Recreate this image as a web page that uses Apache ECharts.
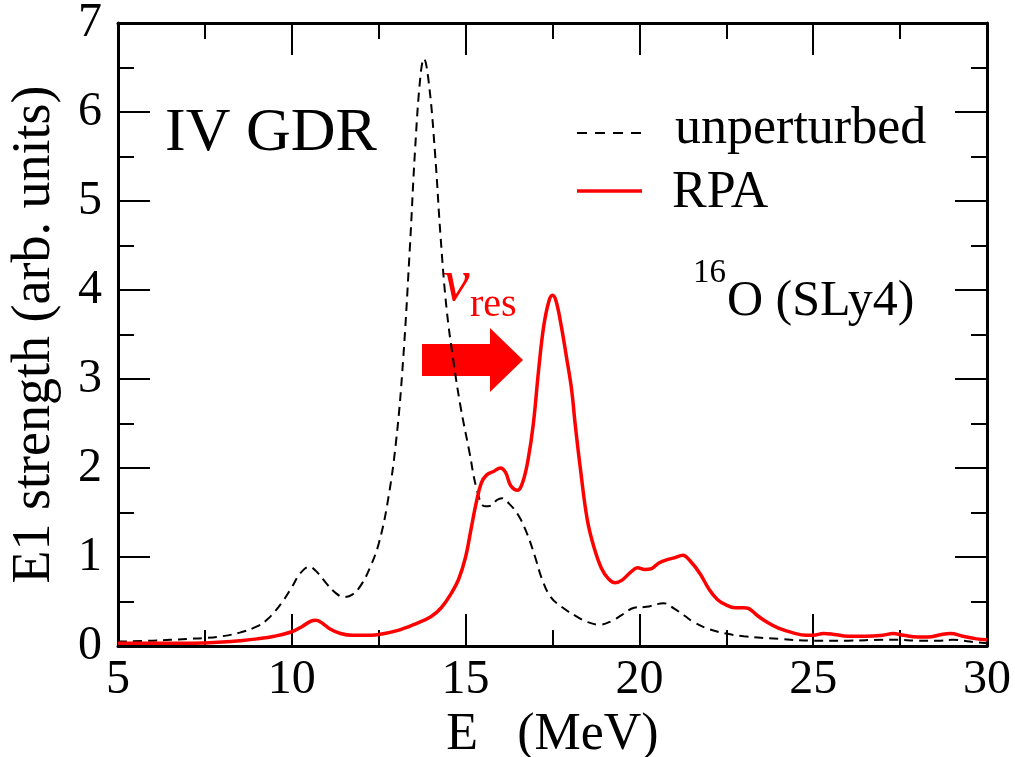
<!DOCTYPE html>
<html>
<head>
<meta charset="utf-8">
<title>E1 strength 16O</title>
<script src="https://cdn.jsdelivr.net/npm/echarts@6/dist/echarts.min.js"></script>
<style>
  html, body { margin: 0; padding: 0; background: #fff; }
  #chart { width: 1015px; height: 757px; }
</style>
</head>
<body>
<div id="chart"></div>
<script>
// unperturbed strength (dashed black)
const energyUnpert = [5.0, 6.0, 7.0, 7.5, 8.0, 8.5, 9.0, 9.3, 9.7, 10.0, 10.25, 10.5, 10.75, 11.0, 11.25, 11.5, 11.75, 12.0, 12.25, 12.5, 12.75, 13.0, 13.2, 13.4, 13.55, 13.7, 13.8, 13.95, 14.12, 14.28, 14.45, 14.65, 14.85, 15.1, 15.33, 15.55, 15.75, 15.9, 16.05, 16.25, 16.5, 16.75, 17.0, 17.2, 17.45, 17.8, 18.2, 18.5, 18.85, 19.2, 19.5, 19.85, 20.2, 20.7, 21.0, 21.3, 21.55, 22.0, 22.5, 23.0, 24.0, 25.0, 26.0, 27.0, 27.4, 28.0, 28.6, 29.0, 29.5, 30.0]
const strengthUnpert = [0.05, 0.06, 0.08, 0.09, 0.11, 0.15, 0.22, 0.30, 0.48, 0.66, 0.82, 0.89, 0.82, 0.70, 0.60, 0.55, 0.58, 0.69, 0.88, 1.15, 1.6, 2.3, 3.2, 4.5, 5.6, 6.4, 6.6, 6.3, 5.54, 4.6, 3.8, 3.2, 2.7, 2.2, 1.75, 1.57, 1.58, 1.64, 1.66, 1.6, 1.48, 1.28, 1.0, 0.75, 0.55, 0.43, 0.33, 0.27, 0.24, 0.28, 0.35, 0.43, 0.44, 0.48, 0.42, 0.34, 0.27, 0.19, 0.14, 0.11, 0.08, 0.06, 0.06, 0.07, 0.07, 0.06, 0.06, 0.07, 0.05, 0.03]

// RPA strength (solid red)
const energyRpa = [5.0, 6.0, 7.0, 7.5, 8.0, 8.5, 9.0, 9.5, 10.0, 10.3, 10.55, 10.7, 10.9, 11.1, 11.4, 11.75, 12.0, 12.5, 13.0, 13.5, 14.0, 14.3, 14.6, 14.8, 15.0, 15.15, 15.3, 15.45, 15.6, 15.8, 16.0, 16.15, 16.3, 16.5, 16.65, 16.8, 16.95, 17.1, 17.25, 17.4, 17.5, 17.6, 17.75, 17.9, 18.05, 18.15, 18.3, 18.5, 18.7, 18.9, 19.1, 19.3, 19.5, 19.75, 19.95, 20.15, 20.35, 20.55, 20.8, 21.0, 21.25, 21.45, 21.75, 22.0, 22.25, 22.5, 22.75, 23.0, 23.15, 23.4, 23.7, 24.0, 24.4, 24.8, 25.0, 25.3, 25.6, 26.0, 26.5, 27.0, 27.3, 27.6, 28.0, 28.3, 28.7, 28.95, 29.3, 29.7, 30.0]
const strengthRpa = [0.03, 0.03, 0.03, 0.035, 0.045, 0.06, 0.08, 0.11, 0.16, 0.22, 0.28, 0.29, 0.25, 0.19, 0.14, 0.12, 0.12, 0.13, 0.17, 0.24, 0.33, 0.43, 0.6, 0.75, 1.0, 1.3, 1.6, 1.83, 1.92, 1.96, 2.0, 1.95, 1.8, 1.75, 1.85, 2.1, 2.5, 3.1, 3.6, 3.88, 3.94, 3.88, 3.6, 3.25, 2.88, 2.5, 2.0, 1.42, 1.1, 0.88, 0.76, 0.71, 0.74, 0.83, 0.88, 0.86, 0.87, 0.93, 0.97, 0.99, 1.02, 0.96, 0.81, 0.64, 0.52, 0.46, 0.43, 0.43, 0.42, 0.34, 0.26, 0.20, 0.15, 0.12, 0.12, 0.14, 0.13, 0.11, 0.11, 0.12, 0.14, 0.12, 0.10, 0.10, 0.13, 0.14, 0.11, 0.08, 0.07]

const xRange = [5, 30]
const yRange = [0, 7]
const seriesNames = ['unperturbed', 'RPA']

const FONT = 'Liberation Serif'

function pairs (xs, ys) {
  return xs.map((x, i) => [x, ys[i]])
}

const myChart = echarts.init(document.getElementById('chart'), null, { renderer: 'canvas' })

// shared look of the frame axes (ticks inside, all four sides)
function frameAxis (extra) {
  return Object.assign({
    type: 'value',
    splitLine: { show: false },
    axisLine: { show: true, onZero: false, lineStyle: { color: '#000', width: 3 } },
    axisTick: { show: true, inside: true, length: 32, lineStyle: { color: '#000', width: 2 } },
    minorTick: { show: true, splitNumber: 2, length: 16, lineStyle: { color: '#000', width: 2 } },
    minorSplitLine: { show: false }
  }, extra)
}

const tickLabel = { color: '#000', fontFamily: FONT, fontSize: 48 }

// text helper for the annotations (serif, like the original plot)
function label (x, y, text, size, color, extra) {
  return {
    type: 'text',
    x: x,
    y: y,
    style: Object.assign({
      text: text,
      fontFamily: FONT,
      fontSize: size,
      fill: color || '#000',
      verticalAlign: 'middle'
    }, extra)
  }
}

myChart.setOption({
  backgroundColor: '#fff',
  animation: false,
  grid: {
    left: 118,
    right: 28,
    top: 23,
    bottom: 111,
    containLabel: false,
    outerBoundsMode: 'none'
  },
  xAxis: [
    frameAxis({
      position: 'bottom',
      min: xRange[0], max: xRange[1], interval: 5,
      axisLabel: Object.assign({ margin: 10, showMinLabel: true, showMaxLabel: true }, tickLabel),
      name: 'E   (MeV)',
      nameLocation: 'middle',
      nameGap: 40,
      nameTextStyle: { color: '#000', fontFamily: FONT, fontSize: 52 }
    }),
    frameAxis({
      position: 'top',
      min: xRange[0], max: xRange[1], interval: 5,
      axisLabel: { show: false }
    })
  ],
  yAxis: [
    frameAxis({
      position: 'left',
      min: yRange[0], max: yRange[1], interval: 1,
      axisLabel: Object.assign({ margin: 16 }, tickLabel),
      name: 'E1 strength (arb. units)',
      nameLocation: 'middle',
      nameGap: 56,
      nameTextStyle: { color: '#000', fontFamily: FONT, fontSize: 54 }
    }),
    frameAxis({
      position: 'right',
      min: yRange[0], max: yRange[1], interval: 1,
      axisLabel: { show: false }
    })
  ],
  series: [
    {
      name: seriesNames[0],
      type: 'line',
      data: pairs(energyUnpert, strengthUnpert),
      showSymbol: false,
      symbol: 'none',
      smooth: 0.4,
      lineStyle: { color: '#000', width: 2, type: [9, 6] },
      z: 2
    },
    {
      name: seriesNames[1],
      type: 'line',
      data: pairs(energyRpa, strengthRpa),
      showSymbol: false,
      symbol: 'none',
      smooth: 0.4,
      lineStyle: { color: '#ff0000', width: 3.5 },
      z: 3
    }
  ],
  graphic: [
    // panel label
    label(165, 134, 'IV GDR', 62),
    // legend
    { type: 'line', shape: { x1: 577, y1: 133, x2: 642, y2: 133 }, style: { stroke: '#000', lineWidth: 2, lineDash: [10, 8] } },
    label(675, 129, seriesNames[0], 52),
    { type: 'line', shape: { x1: 577, y1: 191, x2: 642, y2: 191 }, style: { stroke: '#ff0000', lineWidth: 3.5 } },
    label(672, 193, seriesNames[1], 52),
    // nucleus / interaction
    label(693, 273, '16', 33),
    label(727, 302, 'O (SLy4)', 50),
    // nu_res label + shift arrow
    label(443, 284, 'ν', 60, '#ff0000', { fontStyle: 'italic' }),
    label(470, 305, 'res', 40, '#ff0000'),
    {
      type: 'polygon',
      shape: { points: [[422, 344], [490, 344], [490, 328], [523, 360], [490, 392], [490, 376], [422, 376]] },
      style: { fill: '#ff0000' }
    }
  ]
})
</script>
</body>
</html>
